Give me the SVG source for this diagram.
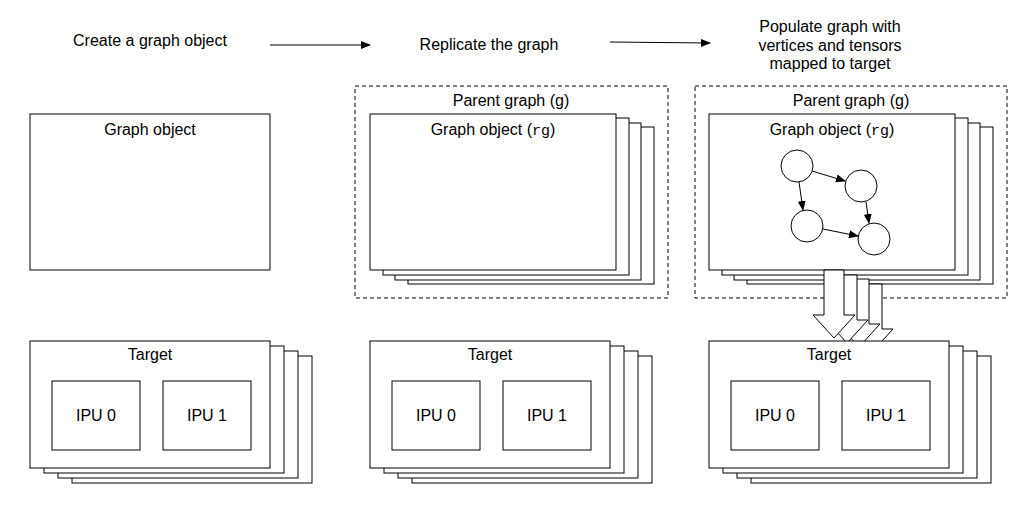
<svg xmlns="http://www.w3.org/2000/svg" width="1022" height="512" viewBox="0 0 1022 512">
<style>
.b{fill:#fff;stroke:#000;stroke-width:1}
.d{fill:none;stroke:#000;stroke-width:1;stroke-dasharray:4 3}
.t{font-family:"Liberation Sans",Arial,sans-serif;font-size:16px;text-anchor:middle;fill:#000}
.m{font-family:"Liberation Mono",monospace;font-size:15px}
.l{stroke:#000;stroke-width:1;fill:none}
</style>
<defs>
<marker id="a" markerWidth="10" markerHeight="10" refX="9" refY="5" orient="auto" markerUnits="userSpaceOnUse"><path d="M0,1 L10,5 L0,9 Z" fill="#000"/></marker>
<g id="tgt">
<rect class="b" x="42" y="15" width="240" height="127"/>
<rect class="b" x="28" y="10" width="240" height="127"/>
<rect class="b" x="14" y="5" width="240" height="127"/>
<rect class="b" x="0" y="0" width="240" height="127"/>
<text class="t" x="120" y="19">Target</text>
<rect class="b" x="22" y="40" width="88" height="69"/>
<rect class="b" x="133" y="40" width="88" height="69"/>
<text class="t" x="66" y="80">IPU 0</text>
<text class="t" x="177" y="80">IPU 1</text>
</g>
<g id="gstack">
<rect class="b" x="38" y="13" width="246" height="157"/>
<rect class="b" x="25" y="9" width="246" height="157"/>
<rect class="b" x="13" y="4" width="246" height="157"/>
<rect class="b" x="0" y="0" width="246" height="156"/>
<text class="t" x="123" y="21">Graph object (<tspan class="m">rg</tspan>)</text>
</g>
<path id="ba" class="b" d="M-10,0 L10,0 L10,45 L21,45 L0,68 L-21,45 L-10,45 Z"/>
</defs>
<text class="t" x="150" y="46">Create a graph object</text>
<text class="t" x="489" y="50">Replicate the graph</text>
<text class="t" x="830" y="32">Populate graph with</text>
<text class="t" x="830" y="51">vertices and tensors</text>
<text class="t" x="830" y="69">mapped to target</text>
<g id="connectors">
<line class="l" x1="270" y1="45" x2="370" y2="45" marker-end="url(#a)"/>
<line class="l" x1="610" y1="42" x2="710" y2="43" marker-end="url(#a)"/>
</g>
<g id="col1">
<rect class="b" x="30" y="114" width="240" height="156"/>
<text class="t" x="150" y="135">Graph object</text>
</g>
<g id="col2">
<rect class="d" x="355" y="86" width="313" height="212"/>
<text class="t" x="511" y="106">Parent graph (g)</text>
<use href="#gstack" x="370" y="114"/>
</g>
<g id="col3">
<rect class="d" x="695" y="86" width="312" height="212"/>
<text class="t" x="851" y="106">Parent graph (g)</text>
<use href="#gstack" x="709" y="114"/>
<g id="inner">
<circle class="b" cx="797" cy="166" r="16"/>
<circle class="b" cx="861" cy="186" r="16"/>
<circle class="b" cx="807" cy="226" r="16"/>
<circle class="b" cx="874" cy="239" r="16"/>
<line class="l" x1="812" y1="171" x2="845" y2="181" marker-end="url(#a)"/>
<line class="l" x1="799" y1="182" x2="803" y2="210" marker-end="url(#a)"/>
<line class="l" x1="866" y1="202" x2="869" y2="223" marker-end="url(#a)"/>
<line class="l" x1="823" y1="229" x2="858" y2="236" marker-end="url(#a)"/>
</g>
</g>
<g id="blockarrows">
<use href="#ba" x="872" y="284"/>
<use href="#ba" x="859" y="279"/>
<use href="#ba" x="847" y="275"/>
<use href="#ba" x="834" y="270"/>
</g>
<g id="t1"><use href="#tgt" x="30" y="341"/></g>
<g id="t2"><use href="#tgt" x="370" y="341"/></g>
<g id="t3"><use href="#tgt" x="709" y="341"/></g>
</svg>
